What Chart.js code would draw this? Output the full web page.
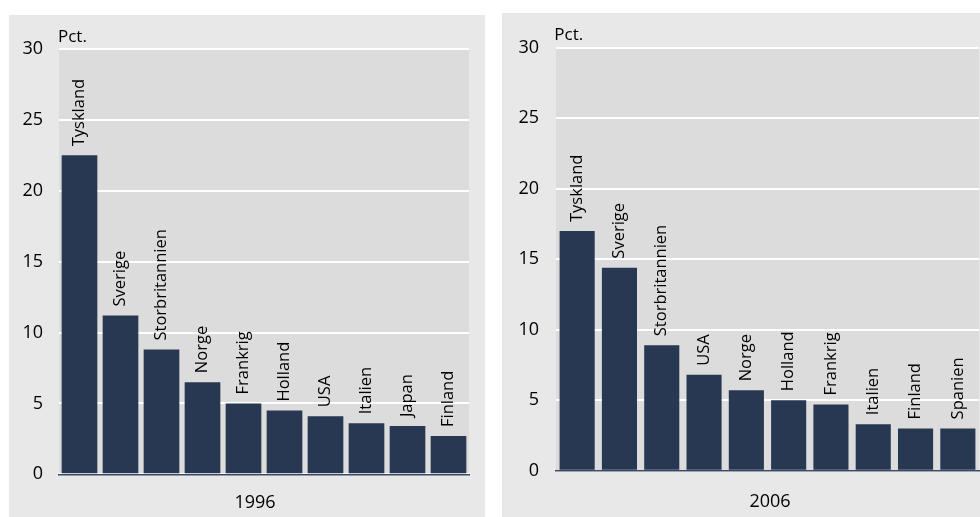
<!DOCTYPE html>
<html>
<head>
<meta charset="utf-8">
<script src="https://cdn.jsdelivr.net/npm/chart.js@4"></script>
<style>
  html, body { margin: 0; padding: 0; background: #fff; }
  body { width: 980px; height: 517px; position: relative; overflow: hidden; }
  .panel { position: absolute; background: #e8e8e8; }
  #p1 { left: 9px; top: 15px; width: 476px; height: 502px; }
  #p2 { left: 502px; top: 13px; width: 478px; height: 504px; }
</style>
</head>
<body>
<div class="panel" id="p1"><canvas id="chart1996"></canvas></div>
<div class="panel" id="p2"><canvas id="chart2006"></canvas></div>
<script>
const categories1996 = ["Tyskland", "Sverige", "Storbritannien", "Norge", "Frankrig", "Holland", "USA", "Italien", "Japan", "Finland"];
const values1996 = [22.5, 11.2, 8.8, 6.5, 5.0, 4.5, 4.1, 3.6, 3.4, 2.7];

const categories2006 = ["Tyskland", "Sverige", "Storbritannien", "USA", "Norge", "Holland", "Frankrig", "Italien", "Finland", "Spanien"];
const values2006 = [17.0, 14.4, 8.9, 6.8, 5.7, 5.0, 4.7, 3.3, 3.0, 3.0];

const yMin = 0, yMax = 30, yStep = 5;

const fontName = '"Open Sans", "DejaVu Sans", sans-serif';
const barColor = "#283752";

// grå baggrund bag selve plotområdet
const plotBg = {
    id: "plotBg",
    beforeDraw(chart) {
        const a = chart.chartArea;
        const ctx = chart.ctx;
        ctx.save();
        ctx.fillStyle = "#dcdcdc";
        ctx.fillRect(a.left, a.top, a.right - a.left, a.bottom - a.top);
        ctx.restore();
    }
};

// lodrette landenavne over søjlerne + "Pct." og årstal
const panelText = {
    id: "panelText",
    afterDatasetsDraw(chart, args, opts) {
        const ctx = chart.ctx;
        const meta = chart.getDatasetMeta(0);
        ctx.save();
        ctx.fillStyle = "#000";
        ctx.font = "16.5px " + fontName;
        ctx.textAlign = "left";
        ctx.textBaseline = "middle";
        meta.data.forEach((bar, i) => {
            ctx.save();
            ctx.translate(bar.x, bar.y - 9);
            ctx.rotate(-Math.PI / 2);
            ctx.fillText(chart.data.labels[i], 0, 0);
            ctx.restore();
        });

        ctx.textBaseline = "alphabetic";
        ctx.font = "17px " + fontName;
        ctx.fillText("Pct.", opts.unitX, opts.unitY);

        ctx.textAlign = "center";
        ctx.font = "18px " + fontName;
        ctx.fillText(opts.year, opts.yearX, opts.yearY);
        ctx.restore();
    }
};

function makeChart(id, labels, data, s) {
    return new Chart(document.getElementById(id), {
        type: "bar",
        data: {
            labels: labels,
            datasets: [{
                data: data,
                backgroundColor: barColor,
                borderWidth: 0,
                barPercentage: s.barPct,
                categoryPercentage: 1
            }]
        },
        options: {
            responsive: true,
            maintainAspectRatio: false,
            animation: false,
            layout: { padding: { left: 0, right: s.padRight, top: s.padTop, bottom: 0 } },
            scales: {
                x: {
                    grid: { display: false },
                    border: { display: true, color: "#3b4a66", width: 1.5 },
                    ticks: { display: false },
                    afterFit: (sc) => { sc.height = s.xHeight; }
                },
                y: {
                    min: yMin,
                    max: yMax,
                    ticks: {
                        stepSize: yStep,
                        padding: s.tickPad,
                        color: "#000",
                        font: { family: fontName, size: 18 }
                    },
                    grid: { color: "#ffffff", lineWidth: 2, drawTicks: false },
                    border: { display: false },
                    afterFit: (sc) => { sc.width = s.yWidth; }
                }
            },
            plugins: {
                legend: { display: false },
                tooltip: { enabled: false },
                panelText: { year: s.year, unitX: s.unitX, unitY: s.unitY, yearX: s.yearX, yearY: s.yearY }
            }
        },
        plugins: [plotBg, panelText]
    });
}

makeChart("chart1996", categories1996, values1996, {
    year: "1996", barPct: 0.87, padRight: 16, padTop: 34, xHeight: 42.7,
    yWidth: 50, tickPad: 16, unitX: 49, unitY: 26.7, yearX: 246, yearY: 493.3
});

makeChart("chart2006", categories2006, values2006, {
    year: "2006", barPct: 0.83, padRight: 1, padTop: 34.7, xHeight: 46.3,
    yWidth: 54, tickPad: 17, unitX: 52.3, unitY: 27, yearX: 268, yearY: 493.7
});
</script>
</body>
</html>
